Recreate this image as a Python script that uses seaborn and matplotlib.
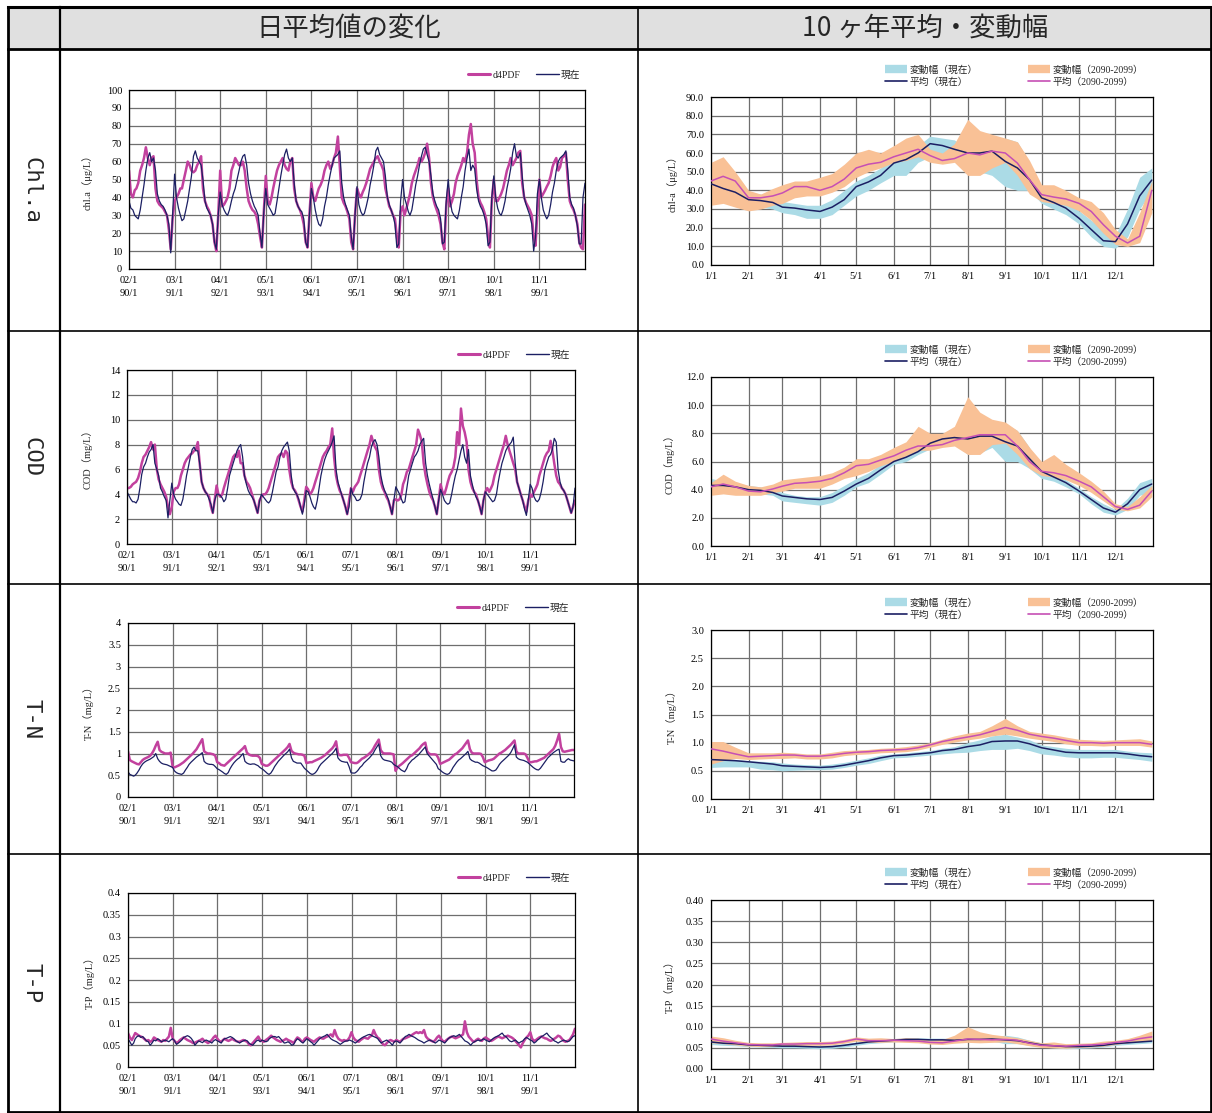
import matplotlib
matplotlib.use("Agg")
import matplotlib.pyplot as plt
import numpy as np
import pandas as pd
import seaborn as sns
from matplotlib.lines import Line2D
from matplotlib.patches import Rectangle
from matplotlib.ticker import FixedLocator, FormatStrFormatter

sns.set_style("white")
plt.rcParams['font.family'] = ['Liberation Serif', 'Noto Sans CJK JP']
plt.rcParams['axes.unicode_minus'] = False

# ---------------------------------------------------------------- data
# Daily series: one value every half month, ten years (present / d4PDF)
HALF_MONTH_DOY = [0, 15, 31, 46, 59, 74, 90, 105, 120, 135, 151, 166,
                  181, 196, 212, 227, 243, 258, 273, 288, 304, 319, 334, 349]
YEAR_LABELS_NOW = ["02/1", "03/1", "04/1", "05/1", "06/1", "07/1", "08/1", "09/1", "10/1", "11/1"]
YEAR_LABELS_FUT = ["90/1", "91/1", "92/1", "93/1", "94/1", "95/1", "96/1", "97/1", "98/1", "99/1"]

chla_now_years = [
    [38, 34, 33, 30, 29, 28, 33, 40, 47, 55, 62, 65, 60, 62, 55, 42, 38, 36, 35, 33, 30, 25, 9, 30],
    [53, 40, 34, 30, 27, 28, 33, 38, 45, 52, 63, 66, 62, 60, 58, 50, 38, 34, 32, 30, 25, 15, 11, 30],
    [43, 36, 33, 31, 30, 33, 38, 42, 45, 50, 55, 60, 63, 64, 58, 48, 42, 38, 35, 33, 30, 20, 12, 32],
    [45, 36, 34, 32, 30, 31, 38, 45, 52, 58, 64, 67, 62, 60, 62, 48, 38, 35, 33, 32, 28, 15, 12, 30],
    [45, 40, 33, 28, 25, 24, 28, 35, 40, 47, 53, 58, 62, 63, 64, 66, 48, 40, 36, 33, 30, 18, 11, 30],
    [46, 36, 32, 30, 31, 35, 40, 47, 52, 58, 66, 68, 64, 62, 60, 52, 40, 36, 33, 30, 25, 12, 14, 38],
    [50, 40, 36, 32, 30, 33, 40, 47, 52, 58, 63, 67, 68, 64, 60, 52, 42, 38, 35, 33, 28, 14, 15, 38],
    [50, 38, 32, 30, 29, 28, 33, 40, 46, 55, 62, 67, 55, 58, 56, 45, 38, 35, 33, 30, 25, 13, 15, 40],
    [52, 40, 34, 31, 30, 33, 38, 45, 50, 56, 65, 70, 63, 62, 65, 52, 40, 36, 33, 30, 25, 10, 18, 42],
    [50, 40, 33, 30, 28, 30, 36, 43, 48, 55, 60, 62, 63, 64, 66, 55, 40, 36, 34, 30, 24, 14, 14, 40],
]
chla_now_last = 48
chla_fut_years = [
    [55, 42, 40, 44, 45, 48, 55, 58, 62, 68, 62, 58, 62, 63, 45, 38, 36, 35, 34, 32, 30, 22, 11, 28],
    [38, 40, 42, 45, 45, 50, 55, 60, 58, 55, 54, 55, 58, 60, 63, 45, 38, 35, 33, 30, 25, 15, 10, 30],
    [55, 35, 36, 38, 40, 45, 55, 58, 62, 60, 58, 58, 60, 55, 45, 38, 35, 33, 32, 30, 25, 18, 12, 32],
    [52, 38, 36, 40, 45, 50, 55, 58, 60, 62, 58, 56, 55, 60, 62, 45, 38, 35, 33, 30, 25, 15, 12, 30],
    [48, 40, 38, 42, 45, 47, 50, 55, 58, 60, 56, 58, 62, 65, 74, 58, 40, 37, 35, 32, 28, 15, 11, 30],
    [45, 42, 40, 43, 45, 48, 52, 56, 58, 60, 62, 63, 60, 58, 55, 45, 40, 35, 33, 30, 28, 18, 12, 32],
    [35, 30, 34, 38, 42, 48, 52, 55, 58, 62, 60, 62, 65, 70, 62, 48, 40, 36, 33, 30, 25, 15, 11, 35],
    [45, 35, 38, 42, 48, 52, 55, 58, 62, 60, 65, 75, 81, 70, 65, 50, 40, 37, 35, 32, 28, 18, 12, 38],
    [50, 38, 38, 40, 42, 45, 50, 55, 58, 62, 58, 60, 62, 65, 66, 48, 40, 37, 35, 33, 30, 18, 13, 32],
    [50, 40, 42, 44, 46, 48, 52, 57, 60, 62, 55, 57, 62, 63, 65, 50, 38, 35, 33, 30, 25, 15, 12, 11],
]
chla_fut_last = 36

cod_now_years = [
    [4.2, 3.9, 3.6, 3.4, 3.4, 3.3, 3.6, 4.5, 5.6, 6.2, 6.5, 7.0, 7.4, 7.6, 8.0, 6.5, 6.0, 5.5, 4.5, 4.2, 3.8, 3.5, 2.1, 3.5],
    [4.9, 4.0, 3.6, 3.4, 3.2, 3.1, 3.6, 4.5, 5.5, 6.2, 7.0, 7.6, 7.8, 7.5, 7.5, 6.5, 5.0, 4.5, 4.2, 4.0, 3.6, 3.2, 2.5, 3.5],
    [4.0, 4.0, 3.9, 3.7, 3.4, 3.6, 4.5, 5.5, 6.0, 6.5, 7.0, 7.5, 7.8, 8.0, 7.0, 5.5, 4.8, 4.3, 4.0, 3.8, 3.5, 3.0, 2.5, 3.4],
    [4.0, 3.8, 3.6, 3.4, 3.3, 3.5, 4.2, 5.0, 5.8, 6.2, 7.0, 7.5, 7.8, 8.0, 8.2, 7.5, 5.5, 4.5, 4.2, 4.0, 3.6, 3.0, 2.4, 3.2],
    [4.3, 4.2, 3.8, 3.3, 3.0, 2.8, 3.5, 4.5, 5.5, 6.2, 6.8, 7.2, 7.5, 7.8, 8.2, 8.7, 6.0, 5.0, 4.5, 4.0, 3.5, 3.0, 2.4, 3.0],
    [4.5, 4.0, 3.8, 3.5, 3.5, 3.6, 4.0, 5.0, 5.8, 6.5, 7.0, 7.8, 8.2, 8.4, 8.0, 7.0, 5.5, 4.8, 4.3, 4.0, 3.6, 3.0, 2.4, 3.5],
    [4.6, 4.3, 4.0, 3.6, 3.3, 3.4, 4.5, 5.5, 6.0, 6.5, 7.0, 7.2, 7.5, 8.0, 8.3, 8.5, 6.5, 5.5, 4.8, 4.2, 3.6, 3.0, 2.4, 3.5],
    [4.4, 4.0, 3.5, 3.3, 3.2, 3.3, 4.0, 4.8, 5.5, 6.0, 6.8, 7.5, 8.0, 7.0, 6.5, 7.6, 5.5, 4.8, 4.2, 3.8, 3.5, 3.0, 2.4, 3.5],
    [4.2, 4.0, 3.8, 3.6, 3.4, 3.5, 4.0, 5.0, 5.8, 6.5, 7.0, 7.5, 7.8, 8.0, 8.2, 8.6, 6.5, 5.0, 4.5, 4.0, 3.5, 2.8, 2.3, 3.5],
    [4.8, 4.5, 3.8, 3.5, 3.4, 3.6, 4.2, 5.0, 6.0, 6.5, 7.0, 7.2, 7.6, 8.5, 8.2, 6.0, 5.0, 4.5, 4.3, 4.0, 3.5, 3.0, 2.5, 3.0],
]
cod_now_last = 4.5
cod_fut_years = [
    [4.5, 4.5, 4.6, 4.8, 4.9, 5.0, 5.3, 5.8, 6.5, 7.0, 7.2, 7.5, 7.8, 8.2, 7.6, 8.0, 6.0, 5.2, 4.8, 4.5, 4.2, 3.8, 3.0, 2.4],
    [3.0, 4.2, 4.5, 4.5, 4.8, 5.5, 6.0, 6.5, 6.8, 7.0, 7.2, 7.3, 7.5, 7.6, 8.2, 6.5, 5.0, 4.5, 4.2, 4.0, 3.8, 3.0, 2.5, 3.5],
    [4.7, 4.0, 3.8, 4.0, 4.5, 5.0, 5.5, 6.0, 6.5, 7.0, 7.2, 7.0, 7.5, 6.5, 6.5, 5.5, 5.0, 4.8, 4.5, 4.0, 3.5, 3.0, 2.5, 3.5],
    [3.8, 4.0, 4.0, 4.2, 4.5, 5.0, 5.5, 6.0, 6.5, 7.0, 7.2, 7.3, 7.0, 7.5, 7.3, 6.0, 5.0, 4.5, 4.3, 4.0, 3.5, 3.0, 2.6, 3.5],
    [4.6, 4.4, 4.0, 4.2, 4.5, 5.0, 5.5, 6.0, 6.5, 7.0, 7.3, 7.5, 7.8, 8.0, 9.3, 7.0, 5.5, 4.8, 4.3, 4.0, 3.5, 3.0, 2.4, 3.5],
    [4.5, 4.2, 4.6, 4.8, 5.0, 5.5, 6.0, 6.5, 7.0, 7.5, 8.0, 8.7, 8.2, 7.8, 7.5, 6.0, 5.0, 4.5, 4.2, 3.8, 3.5, 3.0, 2.4, 3.5],
    [3.6, 3.5, 3.6, 4.0, 4.8, 5.2, 5.8, 6.0, 6.5, 7.0, 7.5, 8.0, 9.2, 8.8, 8.2, 6.5, 5.5, 4.8, 4.2, 3.8, 3.5, 3.0, 2.4, 3.5],
    [4.8, 4.2, 4.0, 4.5, 5.0, 5.5, 5.8, 6.2, 7.0, 9.0, 8.0, 10.9, 9.5, 9.0, 8.2, 6.0, 5.0, 4.5, 4.2, 4.0, 3.5, 3.0, 2.4, 3.5],
    [4.2, 4.5, 4.2, 4.5, 4.8, 5.5, 6.0, 6.5, 7.0, 7.5, 8.0, 8.7, 8.0, 7.5, 7.0, 6.5, 6.0, 5.0, 4.5, 4.0, 3.5, 3.0, 2.6, 3.5],
    [4.0, 3.8, 4.2, 4.5, 4.8, 5.5, 6.0, 6.5, 7.0, 7.3, 7.5, 8.3, 7.5, 6.5, 5.5, 5.0, 4.8, 4.5, 4.3, 4.0, 3.5, 3.0, 2.5, 3.0],
]
cod_fut_last = 3.5

tn_now_years = [
    [0.58, 0.52, 0.50, 0.48, 0.50, 0.55, 0.62, 0.70, 0.76, 0.80, 0.83, 0.85, 0.87, 0.90, 0.93, 1.00, 0.88, 0.82, 0.78, 0.76, 0.75, 0.74, 0.72, 0.70],
    [0.68, 0.60, 0.56, 0.54, 0.53, 0.52, 0.55, 0.62, 0.68, 0.75, 0.80, 0.84, 0.88, 0.92, 0.95, 0.98, 1.02, 0.82, 0.78, 0.76, 0.75, 0.75, 0.74, 0.70],
    [0.65, 0.63, 0.60, 0.57, 0.54, 0.52, 0.56, 0.65, 0.72, 0.78, 0.83, 0.87, 0.90, 0.95, 1.00, 0.82, 0.78, 0.76, 0.75, 0.76, 0.76, 0.74, 0.72, 0.68],
    [0.65, 0.62, 0.58, 0.54, 0.52, 0.55, 0.62, 0.70, 0.76, 0.82, 0.87, 0.92, 0.96, 1.00, 1.04, 1.10, 0.90, 0.82, 0.80, 0.78, 0.78, 0.78, 0.72, 0.66],
    [0.62, 0.58, 0.54, 0.52, 0.53, 0.56, 0.62, 0.70, 0.76, 0.80, 0.84, 0.88, 0.92, 0.96, 1.00, 1.05, 1.12, 0.90, 0.85, 0.82, 0.81, 0.80, 0.80, 0.70],
    [0.56, 0.55, 0.55, 0.58, 0.62, 0.68, 0.72, 0.78, 0.82, 0.86, 0.90, 0.95, 1.00, 1.08, 1.15, 1.22, 0.95, 0.88, 0.85, 0.84, 0.83, 0.82, 0.80, 0.75],
    [0.72, 0.70, 0.66, 0.62, 0.60, 0.58, 0.65, 0.75, 0.80, 0.85, 0.88, 0.92, 0.95, 1.00, 1.05, 1.10, 1.15, 1.00, 0.95, 0.90, 0.85, 0.80, 0.75, 0.65],
    [0.62, 0.58, 0.55, 0.53, 0.52, 0.54, 0.60, 0.68, 0.74, 0.80, 0.85, 0.88, 0.92, 0.96, 1.00, 1.05, 0.88, 0.84, 0.82, 0.80, 0.80, 0.78, 0.75, 0.72],
    [0.70, 0.68, 0.65, 0.62, 0.60, 0.60, 0.62, 0.68, 0.75, 0.80, 0.84, 0.88, 0.92, 0.96, 1.02, 1.10, 1.20, 0.92, 0.88, 0.86, 0.85, 0.84, 0.82, 0.80],
    [0.76, 0.72, 0.68, 0.65, 0.63, 0.62, 0.66, 0.72, 0.78, 0.84, 0.90, 0.94, 0.98, 1.02, 1.05, 1.08, 1.10, 0.82, 0.80, 0.80, 0.85, 0.88, 0.85, 0.84],
]
tn_now_last = 0.83
tn_fut_years = [
    [1.05, 0.85, 0.82, 0.80, 0.78, 0.76, 0.75, 0.80, 0.85, 0.88, 0.90, 0.92, 0.95, 1.00, 1.08, 1.18, 1.27, 1.08, 1.04, 1.02, 1.00, 1.00, 1.00, 1.02],
    [0.70, 0.68, 0.70, 0.72, 0.74, 0.77, 0.80, 0.84, 0.88, 0.92, 0.96, 1.00, 1.05, 1.10, 1.18, 1.25, 1.33, 1.05, 1.02, 1.00, 1.00, 0.99, 0.98, 0.95],
    [0.80, 0.78, 0.74, 0.73, 0.72, 0.76, 0.80, 0.84, 0.88, 0.92, 0.96, 1.00, 1.04, 1.08, 1.12, 1.17, 1.02, 0.98, 0.96, 0.95, 0.95, 0.95, 0.94, 0.90],
    [0.76, 0.74, 0.72, 0.72, 0.74, 0.78, 0.82, 0.86, 0.90, 0.94, 0.98, 1.02, 1.06, 1.10, 1.15, 1.22, 1.06, 1.02, 1.00, 0.99, 0.98, 0.98, 0.97, 0.95],
    [0.78, 0.79, 0.80, 0.80, 0.82, 0.84, 0.86, 0.88, 0.90, 0.93, 0.96, 1.00, 1.04, 1.08, 1.12, 1.18, 1.28, 1.00, 0.96, 0.96, 0.97, 0.97, 0.97, 0.90],
    [0.80, 0.79, 0.78, 0.78, 0.80, 0.84, 0.88, 0.90, 0.93, 0.96, 1.00, 1.04, 1.10, 1.18, 1.25, 1.32, 1.08, 1.02, 1.00, 1.00, 1.00, 1.00, 0.99, 0.98],
    [0.60, 0.68, 0.72, 0.75, 0.78, 0.82, 0.86, 0.90, 0.94, 0.96, 1.00, 1.04, 1.08, 1.12, 1.18, 1.22, 1.25, 1.05, 1.00, 0.98, 0.98, 0.98, 0.97, 0.90],
    [0.76, 0.78, 0.80, 0.82, 0.84, 0.86, 0.90, 0.94, 0.98, 1.00, 1.04, 1.08, 1.12, 1.18, 1.24, 1.30, 1.10, 1.02, 1.00, 1.00, 1.00, 1.00, 0.99, 0.92],
    [0.80, 0.82, 0.84, 0.85, 0.86, 0.88, 0.92, 0.96, 1.00, 1.02, 1.05, 1.08, 1.12, 1.16, 1.20, 1.25, 1.30, 1.05, 1.00, 1.00, 1.00, 1.00, 0.98, 0.90],
    [0.80, 0.80, 0.81, 0.82, 0.82, 0.84, 0.86, 0.88, 0.90, 0.94, 0.98, 1.02, 1.06, 1.10, 1.18, 1.30, 1.45, 1.15, 1.05, 1.04, 1.05, 1.06, 1.07, 1.08],
]
tn_fut_last = 1.08

tp_now_years = [
    [0.065, 0.058, 0.050, 0.055, 0.065, 0.070, 0.072, 0.068, 0.070, 0.065, 0.060, 0.058, 0.050, 0.055, 0.062, 0.060, 0.065, 0.062, 0.058, 0.060, 0.062, 0.060, 0.058, 0.062],
    [0.065, 0.060, 0.052, 0.055, 0.058, 0.062, 0.068, 0.070, 0.072, 0.070, 0.066, 0.060, 0.050, 0.055, 0.060, 0.058, 0.056, 0.060, 0.062, 0.060, 0.058, 0.055, 0.060, 0.063],
    [0.060, 0.058, 0.055, 0.062, 0.065, 0.066, 0.068, 0.070, 0.068, 0.065, 0.060, 0.058, 0.055, 0.058, 0.060, 0.062, 0.060, 0.055, 0.052, 0.050, 0.055, 0.060, 0.062, 0.058],
    [0.062, 0.060, 0.058, 0.060, 0.065, 0.068, 0.070, 0.070, 0.068, 0.070, 0.065, 0.060, 0.055, 0.056, 0.058, 0.055, 0.050, 0.052, 0.060, 0.065, 0.062, 0.058, 0.055, 0.060],
    [0.065, 0.062, 0.058, 0.055, 0.050, 0.055, 0.060, 0.065, 0.068, 0.070, 0.072, 0.075, 0.070, 0.065, 0.062, 0.060, 0.058, 0.055, 0.052, 0.055, 0.058, 0.060, 0.060, 0.062],
    [0.060, 0.058, 0.055, 0.058, 0.062, 0.065, 0.068, 0.070, 0.072, 0.074, 0.075, 0.072, 0.070, 0.068, 0.066, 0.060, 0.055, 0.058, 0.060, 0.062, 0.058, 0.055, 0.050, 0.058],
    [0.060, 0.058, 0.055, 0.060, 0.065, 0.070, 0.072, 0.075, 0.072, 0.070, 0.068, 0.065, 0.062, 0.060, 0.058, 0.055, 0.058, 0.060, 0.062, 0.060, 0.058, 0.055, 0.058, 0.062],
    [0.060, 0.058, 0.055, 0.060, 0.065, 0.068, 0.070, 0.072, 0.070, 0.072, 0.075, 0.070, 0.065, 0.060, 0.058, 0.055, 0.050, 0.055, 0.058, 0.060, 0.062, 0.060, 0.062, 0.065],
    [0.062, 0.060, 0.058, 0.062, 0.065, 0.068, 0.070, 0.072, 0.075, 0.078, 0.072, 0.070, 0.065, 0.060, 0.058, 0.060, 0.062, 0.058, 0.055, 0.058, 0.060, 0.065, 0.068, 0.065],
    [0.062, 0.060, 0.055, 0.058, 0.062, 0.065, 0.070, 0.072, 0.075, 0.078, 0.072, 0.068, 0.065, 0.060, 0.058, 0.055, 0.058, 0.060, 0.062, 0.060, 0.058, 0.060, 0.065, 0.070],
]
tp_now_last = 0.072
tp_fut_years = [
    [0.078, 0.068, 0.062, 0.070, 0.078, 0.075, 0.072, 0.070, 0.068, 0.064, 0.060, 0.062, 0.058, 0.060, 0.068, 0.065, 0.062, 0.060, 0.058, 0.062, 0.060, 0.065, 0.070, 0.090],
    [0.065, 0.060, 0.055, 0.058, 0.062, 0.065, 0.068, 0.065, 0.062, 0.060, 0.058, 0.055, 0.056, 0.058, 0.060, 0.062, 0.065, 0.060, 0.058, 0.055, 0.058, 0.062, 0.068, 0.072],
    [0.065, 0.060, 0.058, 0.062, 0.065, 0.062, 0.060, 0.062, 0.065, 0.062, 0.060, 0.058, 0.058, 0.060, 0.062, 0.060, 0.058, 0.052, 0.050, 0.055, 0.060, 0.065, 0.070, 0.062],
    [0.060, 0.058, 0.062, 0.065, 0.068, 0.072, 0.068, 0.065, 0.062, 0.060, 0.058, 0.060, 0.062, 0.065, 0.062, 0.060, 0.058, 0.055, 0.062, 0.068, 0.065, 0.060, 0.058, 0.065],
    [0.068, 0.065, 0.062, 0.060, 0.058, 0.062, 0.065, 0.068, 0.066, 0.065, 0.068, 0.070, 0.072, 0.075, 0.070, 0.085, 0.072, 0.065, 0.062, 0.060, 0.062, 0.060, 0.062, 0.068],
    [0.080, 0.068, 0.062, 0.060, 0.058, 0.062, 0.065, 0.068, 0.066, 0.065, 0.070, 0.072, 0.085, 0.075, 0.068, 0.065, 0.058, 0.052, 0.050, 0.055, 0.060, 0.062, 0.060, 0.058],
    [0.062, 0.060, 0.058, 0.062, 0.065, 0.066, 0.068, 0.070, 0.072, 0.075, 0.078, 0.080, 0.078, 0.080, 0.078, 0.085, 0.070, 0.065, 0.062, 0.060, 0.058, 0.062, 0.068, 0.072],
    [0.065, 0.060, 0.058, 0.062, 0.065, 0.068, 0.070, 0.068, 0.066, 0.068, 0.070, 0.072, 0.075, 0.105, 0.080, 0.070, 0.065, 0.060, 0.058, 0.062, 0.065, 0.062, 0.060, 0.065],
    [0.068, 0.065, 0.062, 0.060, 0.062, 0.065, 0.068, 0.070, 0.068, 0.066, 0.068, 0.070, 0.072, 0.070, 0.068, 0.065, 0.060, 0.055, 0.050, 0.045, 0.055, 0.062, 0.068, 0.072],
    [0.080, 0.065, 0.060, 0.062, 0.065, 0.068, 0.070, 0.068, 0.066, 0.065, 0.062, 0.060, 0.062, 0.065, 0.068, 0.072, 0.070, 0.065, 0.060, 0.058, 0.060, 0.062, 0.068, 0.075],
]
tp_fut_last = 0.088

# Ten-year statistics by calendar day (1st, 11th, 21st of each month + 12/31)
CAL_DOY = [0, 10, 20, 31, 41, 51, 59, 69, 79, 90, 100, 110, 120, 130, 140, 151, 161, 171,
           181, 191, 201, 212, 222, 232, 243, 253, 263, 273, 283, 293, 304, 314, 324, 334,
           344, 354, 364]
MONTH_DOY = [0, 31, 59, 90, 120, 151, 181, 212, 243, 273, 304, 334]
MONTH_LABELS = ["1/1", "2/1", "3/1", "4/1", "5/1", "6/1", "7/1", "8/1", "9/1", "10/1", "11/1", "12/1"]

chla_mean_now = [43.5, 41, 39, 35, 34.5, 33.5, 31, 30.5, 29.5, 28.7, 31, 35, 42, 44.5, 48, 54.6, 56.5, 60,
                 65, 64, 62, 60, 60, 61, 55.5, 52, 45.7, 36, 33.5, 30.5, 25, 19, 13, 12.5, 22, 37, 45.5]
chla_lo_now = [35, 36, 34, 32, 31, 30, 28, 27, 25, 25, 27, 32, 37, 40, 44, 48, 48, 55,
               58, 58, 57, 55, 50, 48, 42, 40, 40, 33, 30, 27, 22, 15, 10, 9, 15, 30, 40]
chla_hi_now = [45, 44, 41, 39, 38, 37, 34, 33, 32, 32, 35, 40, 45, 48, 52, 57, 58, 64,
               69, 68, 67, 62, 62, 63, 68, 66, 55, 40, 36, 34, 29, 24, 19, 16, 30, 47, 52]
chla_mean_fut = [45, 47.5, 45, 36, 36, 37, 38.6, 42, 42, 40, 42, 46, 52, 54, 55, 58, 60, 62,
                 58.6, 56, 57, 60, 59, 61, 60, 54.6, 45.7, 37.7, 36.4, 35.4, 33, 28.7, 21.6, 15.4, 11.8, 15.4, 40]
chla_lo_fut = [32, 33, 31, 29, 30, 32, 33, 36, 37, 37, 39, 42, 47, 50, 52, 55, 56, 58,
               55, 54, 55, 48, 48, 52, 55, 48, 38, 34, 33, 32, 29, 24, 17, 11, 10, 12, 28]
chla_hi_fut = [55, 58, 50, 40, 38, 41, 43, 45, 45, 47, 49, 54, 60, 62, 60, 64, 68, 70,
               62, 60, 65, 78, 72, 70, 68, 66, 56, 43, 43, 40, 36, 34, 28, 19, 14, 28, 45]

cod_mean_now = [4.3, 4.3, 4.2, 4.0, 3.95, 3.8, 3.55, 3.45, 3.35, 3.3, 3.45, 3.9, 4.4, 4.8, 5.4, 6.0, 6.3, 6.7,
                7.3, 7.6, 7.7, 7.6, 7.8, 7.8, 7.4, 7.1, 6.2, 5.3, 4.9, 4.5, 3.9, 3.3, 2.7, 2.4, 3.0, 4.0, 4.4]
cod_lo_now = [4.0, 4.0, 3.9, 3.8, 3.7, 3.6, 3.2, 3.1, 3.0, 2.9, 3.1, 3.6, 4.2, 4.5, 5.1, 5.8, 6.0, 6.5,
              6.9, 7.2, 7.3, 6.5, 6.6, 7.0, 6.0, 6.0, 5.5, 4.8, 4.6, 4.2, 3.7, 3.0, 2.4, 2.2, 2.6, 3.6, 3.8]
cod_hi_now = [4.8, 4.6, 4.4, 4.3, 4.2, 4.0, 3.8, 3.6, 3.5, 3.5, 3.8, 4.3, 4.8, 5.2, 5.8, 6.5, 6.8, 7.0,
              7.8, 8.0, 8.0, 7.9, 8.0, 8.2, 8.7, 8.2, 7.0, 5.3, 5.0, 4.7, 4.1, 3.5, 3.0, 2.6, 3.4, 4.5, 4.8]
cod_mean_fut = [4.2, 4.4, 4.2, 3.9, 3.85, 4.05, 4.25, 4.45, 4.5, 4.6, 4.8, 5.2, 5.7, 5.8, 6.1, 6.4, 6.8, 7.1,
                7.1, 7.2, 7.5, 7.7, 7.9, 7.9, 7.9, 7.1, 6.0, 5.3, 5.2, 5.0, 4.6, 4.2, 3.5, 2.8, 2.6, 2.9, 3.9]
cod_lo_fut = [3.6, 3.7, 3.6, 3.6, 3.6, 3.8, 3.9, 4.1, 4.1, 4.1, 4.4, 4.8, 5.0, 5.3, 5.7, 6.0, 6.4, 6.8,
              6.8, 7.0, 7.1, 6.5, 6.5, 7.2, 7.3, 6.5, 5.5, 5.0, 4.9, 4.7, 4.3, 3.8, 3.2, 2.6, 2.5, 2.7, 3.5]
cod_hi_fut = [4.5, 5.1, 4.6, 4.3, 4.2, 4.4, 4.7, 4.8, 4.9, 5.0, 5.2, 5.6, 6.2, 6.2, 6.5, 7.0, 7.4, 8.5,
              8.0, 8.0, 8.5, 10.6, 9.5, 9.0, 8.8, 8.2, 7.0, 6.0, 6.5, 5.8, 5.2, 4.6, 3.9, 3.0, 2.8, 3.5, 4.3]

tn_mean_now = [0.70, 0.69, 0.68, 0.66, 0.64, 0.62, 0.59, 0.58, 0.57, 0.56, 0.57, 0.60, 0.64, 0.68, 0.73, 0.77, 0.78, 0.80,
               0.82, 0.86, 0.88, 0.93, 0.96, 1.02, 1.03, 1.03, 0.98, 0.91, 0.87, 0.83, 0.82, 0.82, 0.82, 0.82, 0.80, 0.77, 0.75]
tn_lo_now = [0.56, 0.57, 0.57, 0.57, 0.53, 0.52, 0.50, 0.51, 0.52, 0.52, 0.53, 0.56, 0.60, 0.63, 0.68, 0.73, 0.74, 0.76,
             0.78, 0.80, 0.82, 0.83, 0.86, 0.88, 0.88, 0.90, 0.86, 0.80, 0.78, 0.75, 0.73, 0.73, 0.74, 0.74, 0.72, 0.70, 0.67]
tn_hi_now = [0.72, 0.70, 0.70, 0.68, 0.67, 0.66, 0.64, 0.62, 0.61, 0.60, 0.62, 0.65, 0.69, 0.73, 0.78, 0.80, 0.82, 0.84,
             0.86, 0.90, 0.93, 1.00, 1.05, 1.12, 1.15, 1.10, 1.05, 0.96, 0.93, 0.90, 0.88, 0.88, 0.88, 0.88, 0.85, 0.83, 0.82]
tn_mean_fut = [0.89, 0.85, 0.80, 0.75, 0.76, 0.77, 0.78, 0.78, 0.76, 0.76, 0.78, 0.81, 0.83, 0.84, 0.86, 0.87, 0.88, 0.91,
               0.96, 1.02, 1.06, 1.10, 1.14, 1.20, 1.27, 1.22, 1.15, 1.11, 1.08, 1.04, 1.00, 1.00, 0.99, 1.00, 1.00, 1.00, 0.97]
tn_lo_fut = [0.62, 0.68, 0.72, 0.70, 0.71, 0.72, 0.72, 0.73, 0.71, 0.71, 0.73, 0.77, 0.79, 0.80, 0.82, 0.83, 0.84, 0.87,
             0.92, 0.97, 1.01, 1.05, 1.08, 1.12, 1.15, 1.12, 1.08, 1.05, 1.02, 0.98, 0.95, 0.95, 0.94, 0.95, 0.95, 0.95, 0.92]
tn_hi_fut = [1.02, 1.02, 0.92, 0.82, 0.82, 0.82, 0.83, 0.82, 0.80, 0.80, 0.83, 0.86, 0.87, 0.88, 0.90, 0.91, 0.93, 0.96,
             1.00, 1.06, 1.12, 1.17, 1.20, 1.30, 1.43, 1.30, 1.20, 1.17, 1.14, 1.10, 1.06, 1.05, 1.04, 1.05, 1.06, 1.07, 1.03]

tp_mean_now = [0.064, 0.061, 0.060, 0.057, 0.056, 0.055, 0.054, 0.054, 0.053, 0.052, 0.053, 0.056, 0.060, 0.064, 0.066, 0.068, 0.070, 0.070,
               0.069, 0.069, 0.068, 0.070, 0.070, 0.071, 0.069, 0.067, 0.062, 0.057, 0.055, 0.053, 0.053, 0.054, 0.056, 0.060, 0.062, 0.064, 0.066]
tp_lo_now = [0.058, 0.056, 0.055, 0.053, 0.052, 0.051, 0.050, 0.050, 0.049, 0.048, 0.049, 0.052, 0.056, 0.060, 0.062, 0.064, 0.066, 0.066,
             0.065, 0.065, 0.064, 0.066, 0.066, 0.066, 0.060, 0.060, 0.056, 0.052, 0.050, 0.048, 0.049, 0.050, 0.052, 0.056, 0.058, 0.060, 0.062]
tp_hi_now = [0.070, 0.066, 0.064, 0.061, 0.060, 0.059, 0.058, 0.058, 0.057, 0.056, 0.057, 0.060, 0.064, 0.068, 0.070, 0.072, 0.074, 0.074,
             0.073, 0.073, 0.072, 0.074, 0.074, 0.076, 0.080, 0.076, 0.068, 0.062, 0.059, 0.057, 0.057, 0.058, 0.060, 0.064, 0.066, 0.068, 0.070]
tp_mean_fut = [0.071, 0.066, 0.062, 0.058, 0.057, 0.057, 0.059, 0.059, 0.060, 0.060, 0.061, 0.065, 0.071, 0.067, 0.067, 0.068, 0.067, 0.066,
               0.063, 0.062, 0.066, 0.071, 0.070, 0.069, 0.070, 0.068, 0.061, 0.056, 0.055, 0.054, 0.056, 0.057, 0.059, 0.063, 0.066, 0.072, 0.076]
tp_lo_fut = [0.062, 0.060, 0.057, 0.054, 0.053, 0.053, 0.055, 0.055, 0.056, 0.056, 0.057, 0.061, 0.066, 0.063, 0.063, 0.064, 0.063, 0.062,
             0.059, 0.058, 0.061, 0.063, 0.062, 0.063, 0.064, 0.060, 0.055, 0.051, 0.050, 0.049, 0.051, 0.052, 0.054, 0.058, 0.062, 0.066, 0.068]
tp_hi_fut = [0.078, 0.074, 0.068, 0.063, 0.062, 0.062, 0.063, 0.064, 0.065, 0.065, 0.066, 0.070, 0.076, 0.073, 0.074, 0.072, 0.074, 0.073,
             0.068, 0.070, 0.080, 0.100, 0.088, 0.082, 0.078, 0.074, 0.068, 0.062, 0.064, 0.060, 0.061, 0.062, 0.066, 0.068, 0.072, 0.080, 0.090]

ROW_LABELS = ["Chl.a", "COD", "T-N", "T-P"]
HEADERS = ["日平均値の変化", "10 ヶ年平均・変動幅"]

# ---------------------------------------------------------------- style
W, H = 1212, 1113
MAGENTA = "#C2419E"
NAVY = "#1B1F63"
MAGENTA_MEAN = "#C64FB4"
BAND_NOW = "#ABDBE6"
BAND_FUT = "#F9C196"
GRID = "#6E6E6E"
CJK = ["Noto Sans CJK JP", "DejaVu Sans"]

fig = plt.figure(figsize=(W / 100, H / 100), dpi=100)
fig.patch.set_facecolor("white")


def add_axes_px(x0, y0, x1, y1):
    return fig.add_axes([x0 / W, 1 - y1 / H, (x1 - x0) / W, (y1 - y0) / H])


def fig_line(x0, y0, x1, y1, lw):
    fig.add_artist(Line2D([x0 / W, x1 / W], [1 - y0 / H, 1 - y1 / H],
                          transform=fig.transFigure, color="black", lw=lw,
                          solid_capstyle="projecting"))


# table frame
fig.add_artist(Rectangle((8 / W, 1 - 49 / H), (1211 - 8) / W, (49 - 7) / H,
                         transform=fig.transFigure, facecolor="#E0E0E0",
                         edgecolor="none", zorder=0))
fig_line(8, 7, 1211, 7, 2.2)
fig_line(8, 49, 1211, 49, 2.0)
for yy in (331, 584, 854):
    fig_line(8, yy, 1211, yy, 1.2)
fig_line(8, 1112, 1211, 1112, 2.0)
fig_line(8, 7, 8, 1113, 2.0)
fig_line(60, 7, 60, 1113, 1.6)
fig_line(638, 7, 638, 1113, 1.2)
fig_line(1211, 7, 1211, 1113, 2.0)

fig.text(349 / W, 1 - 28 / H, HEADERS[0], ha="center", va="center",
         fontsize=19, family=CJK)
fig.text(925 / W, 1 - 28 / H, HEADERS[1], ha="center", va="center",
         fontsize=19, family=CJK)
for label, yc in zip(ROW_LABELS, (190, 457, 719, 983)):
    fig.text(31 / W, 1 - yc / H, label, rotation=-90, ha="center", va="center",
             fontsize=16, family=["DejaVu Sans Mono"])


def style_axes(ax):
    for s in ax.spines.values():
        s.set_visible(True)
        s.set_color("black")
        s.set_linewidth(0.9)
    ax.grid(True, which="major", color=GRID, lw=0.9)
    ax.set_axisbelow(True)
    ax.tick_params(axis="both", which="major", direction="out", length=3,
                   width=0.8, labelsize=7.5, pad=2, colors="black")
    ax.tick_params(axis="x", which="minor", direction="out", length=2, width=0.6)
    ax.set_xlabel("")


def daily_panel(box, now_years, now_last, fut_years, fut_last, ymax, ystep, ylabel, fmt, labelpad):
    ax = add_axes_px(*box)
    days = [365 * y + d for y in range(10) for d in HALF_MONTH_DOY] + [3650]
    now = [v for yr in now_years for v in yr] + [now_last]
    fut = [v for yr in fut_years for v in yr] + [fut_last]
    df = pd.DataFrame({"day": days, "現在": now, "d4PDF": fut})
    sns.lineplot(data=df, x="day", y="d4PDF", ax=ax, color=MAGENTA, lw=1.8,
                 estimator=None, sort=False)
    sns.lineplot(data=df, x="day", y="現在", ax=ax, color=NAVY, lw=0.9,
                 estimator=None, sort=False)
    ax.set_xlim(0, 3650)
    ax.set_ylim(0, ymax)
    ax.set_yticks(np.arange(0, ymax + ystep / 2, ystep))
    ax.yaxis.set_major_formatter(FormatStrFormatter(fmt))
    ax.set_xticks([365 * i for i in range(10)])
    ax.set_xticklabels([f"{a}\n{b}" for a, b in zip(YEAR_LABELS_NOW, YEAR_LABELS_FUT)],
                       linespacing=1.55)
    ax.xaxis.set_minor_locator(FixedLocator([365 * i + q for i in range(10) for q in (91, 182, 274)]))
    style_axes(ax)
    ax.set_ylabel(ylabel, fontsize=7.5, labelpad=labelpad)
    handles = [Line2D([], [], color=MAGENTA, lw=2.2), Line2D([], [], color=NAVY, lw=1.0)]
    ax.legend(handles, ["d4PDF", "現在"], ncol=2, loc="center right",
              bbox_to_anchor=(0.99, 1 + 15 / (box[3] - box[1])), frameon=False,
              fontsize=7, handlelength=2.3, handletextpad=0.25, columnspacing=1.6,
              borderaxespad=0, borderpad=0)
    return ax


def annual_panel(box, mean_now, lo_now, hi_now, mean_fut, lo_fut, hi_fut,
                 ymax, ystep, ylabel, fmt, labelpad):
    ax = add_axes_px(*box)
    df = pd.DataFrame({"doy": CAL_DOY, "mean_now": mean_now, "lo_now": lo_now, "hi_now": hi_now,
                       "mean_fut": mean_fut, "lo_fut": lo_fut, "hi_fut": hi_fut})
    ax.fill_between(df["doy"], df["lo_now"], df["hi_now"], color=BAND_NOW, lw=0, zorder=2)
    ax.fill_between(df["doy"], df["lo_fut"], df["hi_fut"], color=BAND_FUT, lw=0, zorder=2.1)
    sns.lineplot(data=df, x="doy", y="mean_now", ax=ax, color=NAVY, lw=1.1,
                 estimator=None, sort=False, zorder=3)
    sns.lineplot(data=df, x="doy", y="mean_fut", ax=ax, color=MAGENTA_MEAN, lw=1.1,
                 estimator=None, sort=False, zorder=3.1)
    ax.set_xlim(0, 365)
    ax.set_ylim(0, ymax)
    ax.set_yticks(np.arange(0, ymax + ystep / 2, ystep))
    ax.yaxis.set_major_formatter(FormatStrFormatter(fmt))
    ax.set_xticks(MONTH_DOY)
    ax.set_xticklabels(MONTH_LABELS)
    style_axes(ax)
    ax.set_ylabel(ylabel, fontsize=7.5, labelpad=labelpad)
    handles = [Line2D([], [], color=BAND_NOW, lw=6, solid_capstyle="butt"),
               Line2D([], [], color=NAVY, lw=1.2),
               Line2D([], [], color=BAND_FUT, lw=6, solid_capstyle="butt"),
               Line2D([], [], color=MAGENTA_MEAN, lw=1.2)]
    labels = ["変動幅（現在）", "平均（現在）", "変動幅（2090-2099）", "平均（2090-2099）"]
    ax.legend(handles, labels, ncol=2, loc="center left",
              bbox_to_anchor=(0.394, 1 + 21 / (box[3] - box[1])), frameon=False,
              fontsize=7, handlelength=2.2, handletextpad=0.3, columnspacing=5.2,
              labelspacing=0.25, borderaxespad=0, borderpad=0)
    return ax


daily_panel((129, 90, 585, 269), chla_now_years, chla_now_last, chla_fut_years, chla_fut_last,
            100, 10, "chl.a（μg/L）", "%g", 10)
daily_panel((127, 370, 575, 544), cod_now_years, cod_now_last, cod_fut_years, cod_fut_last,
            14, 2, "COD（mg/L）", "%g", 12)
daily_panel((128, 623, 574, 797), tn_now_years, tn_now_last, tn_fut_years, tn_fut_last,
            4, 0.5, "T-N（mg/L）", "%g", 10)
daily_panel((128, 893, 575, 1067), tp_now_years, tp_now_last, tp_fut_years, tp_fut_last,
            0.4, 0.05, "T-P（mg/L）", "%g", 6)

annual_panel((711, 97, 1153, 265), chla_mean_now, chla_lo_now, chla_hi_now,
             chla_mean_fut, chla_lo_fut, chla_hi_fut, 90, 10, "chl-a（μg/L）", "%.1f", 6)
annual_panel((711, 377, 1153, 546), cod_mean_now, cod_lo_now, cod_hi_now,
             cod_mean_fut, cod_lo_fut, cod_hi_fut, 12, 2, "COD（mg/L）", "%.1f", 8)
annual_panel((711, 630, 1153, 799), tn_mean_now, tn_lo_now, tn_hi_now,
             tn_mean_fut, tn_lo_fut, tn_hi_fut, 3, 0.5, "T-N（mg/L）", "%.1f", 10)
annual_panel((711, 900, 1153, 1069), tp_mean_now, tp_lo_now, tp_hi_now,
             tp_mean_fut, tp_lo_fut, tp_hi_fut, 0.4, 0.05, "T-P（mg/L）", "%.2f", 8)

fig.savefig("out.png", dpi=100, facecolor="white")
